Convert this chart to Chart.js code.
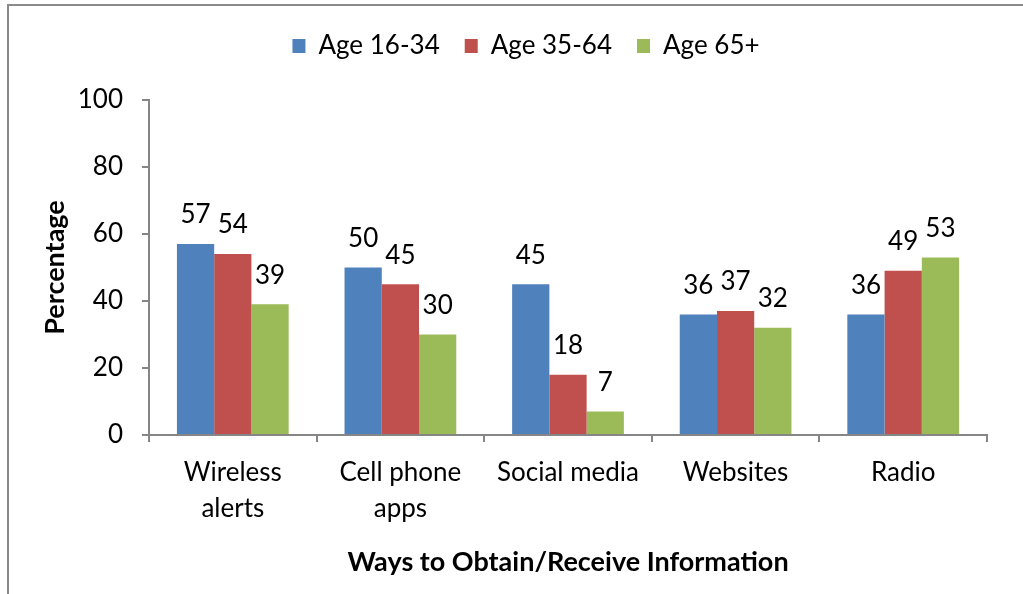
<!DOCTYPE html>
<html>
<head>
<meta charset="utf-8">
<script src="https://cdn.jsdelivr.net/npm/chart.js@4/dist/chart.umd.min.js"></script>
<style>
  html, body { margin: 0; padding: 0; background: #fff; }
  #wrap { position: relative; width: 1023px; height: 594px; overflow: hidden; }
  #frame { position: absolute; left: 7px; top: 4px; width: 1100px; height: 700px;
           border-left: 2px solid #8a8a8a; border-top: 2px solid #8a8a8a; pointer-events: none; }
</style>
</head>
<body>
<div id="wrap">
  <canvas id="ways" width="1023" height="594"></canvas>
  <div id="frame"></div>
</div>
<script>
var categories = [['Wireless', 'alerts'], ['Cell phone', 'apps'], 'Social media', 'Websites', 'Radio'];
var age16to34 = [57, 50, 45, 36, 36];
var age35to64 = [54, 45, 18, 37, 49];
var age65plus = [39, 30, 7, 32, 53];
var yTicks = [0, 20, 40, 60, 80, 100];

var fontFam = 'Lato, "Open Sans", sans-serif';

// legend taller so the plot starts lower, and nudged right a bit
var legendPad = {
    id: 'legendPad',
    beforeInit: function(chart) {
        var orig = chart.legend.fit;
        chart.legend.fit = function() {
            orig.bind(chart.legend)();
            this.height = 92;
        };
    },
    afterLayout: function(chart) {
        chart.legend.left += 26;
    }
};

// numbers above the bars
var valueLabels = {
    id: 'valueLabels',
    afterDatasetsDraw: function(chart) {
        var ctx = chart.ctx;
        ctx.save();
        ctx.font = '26px ' + fontFam;
        ctx.fillStyle = '#000';
        ctx.textAlign = 'center';
        ctx.textBaseline = 'middle';
        chart.data.datasets.forEach(function(ds, i) {
            chart.getDatasetMeta(i).data.forEach(function(bar, j) {
                ctx.fillText(ds.data[j], bar.x, bar.y - 29);
            });
        });
        ctx.restore();
    }
};

var ctx = document.getElementById('ways').getContext('2d');
var chart = new Chart(ctx, {
    type: 'bar',
    data: {
        labels: categories,
        datasets: [
            { label: 'Age 16-34', data: age16to34, backgroundColor: '#4F81BD' },
            { label: 'Age 35-64', data: age35to64, backgroundColor: '#C0504D' },
            { label: 'Age 65+', data: age65plus, backgroundColor: '#9BBB59' }
        ]
    },
    options: {
        responsive: false,
        animation: false,
        layout: { padding: { top: 8, left: 39, right: 36, bottom: 16 } },
        datasets: { bar: { categoryPercentage: 3 / 4.5, barPercentage: 1 } },
        plugins: {
            tooltip: { enabled: false },
            legend: {
                position: 'top',
                labels: {
                    color: '#000',
                    font: { family: fontFam, size: 26 },
                    boxWidth: 13,
                    boxHeight: 14,
                    padding: 25
                }
            }
        },
        scales: {
            x: {
                grid: { display: true, drawOnChartArea: false, offset: true, tickLength: 7, color: '#868686', lineWidth: 2 },
                border: { color: '#868686', width: 2 },
                ticks: { color: '#000', font: { family: fontFam, size: 26, lineHeight: 1.385 }, padding: 13, maxRotation: 0 },
                title: { display: true, text: 'Ways to Obtain/Receive Information', color: '#000',
                         font: { family: fontFam, size: 27, weight: 'bold' }, padding: { top: 10, bottom: 0 } },
                afterFit: function(s) { s.height = 143; }
            },
            y: {
                min: 0,
                max: 100,
                afterBuildTicks: function(s) { s.ticks = yTicks.map(function(v) { return { value: v }; }); },
                grid: { drawOnChartArea: false, tickLength: 7, color: '#868686', lineWidth: 2 },
                border: { color: '#868686', width: 2 },
                ticks: { color: '#000', font: { family: fontFam, size: 26 }, padding: 19 },
                title: { display: true, text: 'Percentage', color: '#000',
                         font: { family: fontFam, size: 27, weight: 'bold' }, padding: { top: 0, bottom: 0 } },
                afterFit: function(s) { s.width = 110; }
            }
        }
    },
    plugins: [legendPad, valueLabels]
});
</script>
</body>
</html>
